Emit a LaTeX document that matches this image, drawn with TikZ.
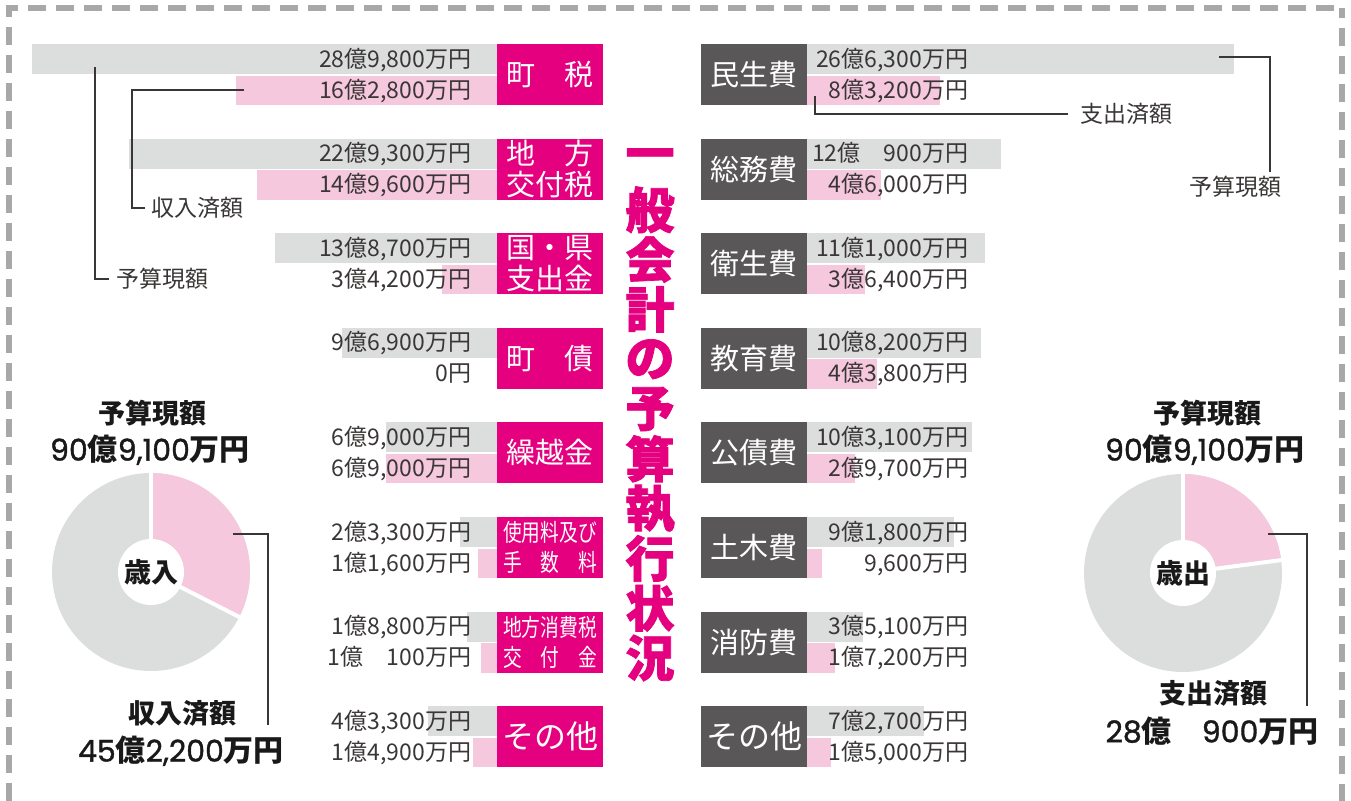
\documentclass[tikz,border=0pt]{standalone}
\usepackage{fontspec}
\setmainfont{Noto Sans CJK JP}
\newfontfamily\popfont[FakeBold=1.2]{Poppins}
\newfontfamily\jpcond[FakeStretch=0.78]{Noto Sans CJK JP}
\newfontfamily\ttlfont[FakeBold=1.5]{Noto Sans CJK JP}
\definecolor{mag}{HTML}{E4007F}
\definecolor{dgray}{HTML}{595757}
\definecolor{barg}{HTML}{DCDDDD}
\definecolor{barp}{HTML}{F5C8DD}
\definecolor{ink}{HTML}{3A3636}
\definecolor{bordc}{HTML}{A8A8A8}
\newcommand\LRow[5]{%
  \pgfmathsetmacro\myGx{497-16.04*#2}%
  \pgfmathsetmacro\myPx{497-16.04*#3}%
  \pgfmathsetmacro\myRy{44+94.6*#1}%
  \fill[gbar] (\myGx,\myRy) rectangle (497,\myRy+30);
  \fill[pbar] (\myPx,\myRy+31.5) rectangle (497,\myRy+61);
  \node[num,anchor=base east] (LG#1) at (471,\myRy+23) {#4};
  \node[num,anchor=base east] (LP#1) at (471,\myRy+54) {#5};
}
\newcommand\RRow[5]{%
  \pgfmathsetmacro\myGx{807+16.04*#2}%
  \pgfmathsetmacro\myPx{807+16.04*#3}%
  \pgfmathsetmacro\myRy{44+94.6*#1}%
  \fill[gbar] (807,\myRy) rectangle (\myGx,\myRy+30);
  \fill[pbar] (807,\myRy+31.5) rectangle (\myPx,\myRy+61);
  \node[num,anchor=base east] (RG#1) at (968,\myRy+23) {#4};
  \node[num,anchor=base east] (RP#1) at (968,\myRy+54) {#5};
}
\newcommand\pn[1]{{\popfont\mdseries #1}}
\tikzset{
  every node/.style={inner sep=0pt, outer sep=0pt},
  gbar/.style={fill=barg},
  pbar/.style={fill=barp},
  num/.style={text=ink, font=\fontsize{23}{23}\selectfont},
  mbox/.style={fill=mag, text=white, minimum width=106pt, minimum height=61pt, align=center, font=\fontsize{29}{31}\selectfont},
  dbox/.style={mbox, fill=dgray},
  smalltxt/.style={font=\jpcond\fontsize{24}{30}\selectfont},
  bigtxt/.style={font=\fontsize{32}{32}\selectfont},
  leader/.style={draw=ink, line width=1.3pt},
  ann/.style={text=ink, font=\fontsize{23}{23}\selectfont},
  ttl/.style={text=mag, font=\ttlfont\fontsize{49}{49}\selectfont\bfseries},
  pielbl/.style={text=black!90, font=\fontsize{27}{27}\selectfont\bfseries},
  pienum/.style={text=black!90, font=\fontsize{30}{30}\selectfont\bfseries},
  bord/.style={draw=bordc, line width=5.5pt, dash pattern=on 18pt off 10pt},
}
\begin{document}
\begin{tikzpicture}[x=1pt,y=-1pt]
\useasboundingbox (0,0) rectangle (1351,800);
% border
\draw[bord, dash phase=9pt] (9,820) -- (9,8) -- (1342,8);
\draw[bord, dash phase=8pt] (1342,8) -- (1342,820);
% left rows
\LRow{0}{28.98}{16.28}{28億9,800万円}{16億2,800万円}
\LRow{1}{22.93}{14.96}{22億9,300万円}{14億9,600万円}
\LRow{2}{13.87}{3.42}{13億8,700万円}{3億4,200万円}
\LRow{3}{9.69}{0}{9億6,900万円}{0円}
\LRow{4}{6.90}{6.90}{6億9,000万円}{6億9,000万円}
\LRow{5}{2.33}{1.16}{2億3,300万円}{1億1,600万円}
\LRow{6}{1.88}{1.01}{1億8,800万円}{1億　100万円}
\LRow{7}{4.33}{1.49}{4億3,300万円}{1億4,900万円}
% right rows
\RRow{0}{26.63}{8.32}{26億6,300万円}{8億3,200万円}
\RRow{1}{12.09}{4.60}{12億　900万円}{4億6,000万円}
\RRow{2}{11.10}{3.64}{11億1,000万円}{3億6,400万円}
\RRow{3}{10.82}{4.38}{10億8,200万円}{4億3,800万円}
\RRow{4}{10.31}{2.97}{10億3,100万円}{2億9,700万円}
\RRow{5}{9.18}{0.96}{9億1,800万円}{9,600万円}
\RRow{6}{3.51}{1.72}{3億5,100万円}{1億7,200万円}
\RRow{7}{7.27}{1.50}{7億2,700万円}{1億5,000万円}
% left label boxes
\node[mbox] (LB0) at (550,74.5) {町　税};
\node[mbox] (LB1) at (550,169.1) {地　方\\交付税};
\node[mbox] (LB2) at (550,263.7) {国・県\\支出金};
\node[mbox] (LB3) at (550,358.3) {町　債};
\node[mbox] (LB4) at (550,452.9) {繰越金};
\node[mbox,smalltxt] (LB5) at (550,547.5) {使用料及び\\手　数　料};
\node[mbox,smalltxt] (LB6) at (550,642.1) {地方消費税\\交　付　金};
\node[mbox,bigtxt] (LB7) at (550,736.7) {その他};
% right label boxes
\node[dbox] (RB0) at (754,74.5) {民生費};
\node[dbox] (RB1) at (754,169.1) {総務費};
\node[dbox] (RB2) at (754,263.7) {衛生費};
\node[dbox] (RB3) at (754,358.3) {教育費};
\node[dbox] (RB4) at (754,452.9) {公債費};
\node[dbox] (RB5) at (754,547.5) {土木費};
\node[dbox] (RB6) at (754,642.1) {消防費};
\node[dbox,bigtxt] (RB7) at (754,736.7) {その他};
% title
\foreach \ch [count=\i from 0] in {一,般,会,計,の,予,算,執,行,状,況}
  \node[ttl] (T\i) at (650,{160+49.8*\i}) {\ch};
% annotations left
\coordinate (a1) at (95,67);
\node[ann,anchor=west] (AY) at (116,279) {予算現額};
\draw[leader] (a1) |- ([xshift=-7pt]AY.west);
\coordinate (b1) at (244,90);
\coordinate (b2) at (132,90);
\node[ann,anchor=west] (AS) at (151,208) {収入済額};
\draw[leader] (b1) -- (b2) |- ([xshift=-6pt]AS.west);
% annotations right
\coordinate (c1) at (815,96);
\node[ann,anchor=west] (AX) at (1080,114) {支出済額};
\draw[leader] (c1) |- ([xshift=-12pt]AX.west);
\coordinate (d1) at (1219,57);
\coordinate (d2) at (1270,172);
\node[ann] (AYR) at (1235,187) {予算現額};
\draw[leader] (d1) -| (d2);
% left pie
\coordinate (PL) at (151,572);
\fill[barg] (PL) circle[radius=99];
\fill[barp] (PL) -- ++(-90:99) arc[start angle=-90,end angle=27,radius=99] -- cycle;
\draw[white,line width=4pt] (PL) -- ++(-90:101);
\draw[white,line width=4pt] (PL) -- ++(27:101);
\fill[white] (PL) circle[radius=33];
\node[pielbl] (PLc) at (PL) {歳入};
\node[pielbl] (PLt1) at (152,413) {予算現額};
\node[pienum] (PLt2) at (150,450) {\pn{90}億\pn{9,100}万円};
\node[pielbl] (PLb1) at (182,713) {収入済額};
\node[pienum] (PLb2) at (181,751) {\pn{45}億\pn{2,200}万円};
\coordinate (pla) at (233,534);
\coordinate (plb) at (268,725);
\draw[leader] (pla) -| (plb);
% right pie
\coordinate (PR) at (1183,573);
\fill[barg] (PR) circle[radius=99];
\fill[barp] (PR) -- ++(-90:99) arc[start angle=-90,end angle=-7.5,radius=99] -- cycle;
\draw[white,line width=4pt] (PR) -- ++(-90:101);
\draw[white,line width=4pt] (PR) -- ++(-7.5:101);
\fill[white] (PR) circle[radius=33];
\node[pielbl] (PRc) at (PR) {歳出};
\node[pielbl] (PRt1) at (1207,413) {予算現額};
\node[pienum] (PRt2) at (1205,450) {\pn{90}億\pn{9,100}万円};
\node[pielbl] (PRb1) at (1213,693) {支出済額};
\node[pienum] (PRb2) at (1212,731) {\pn{28}億　\pn{900}万円};
\coordinate (pra) at (1268,534);
\coordinate (prb) at (1307,706);
\draw[leader] (pra) -| (prb);
\end{tikzpicture}
\end{document}
